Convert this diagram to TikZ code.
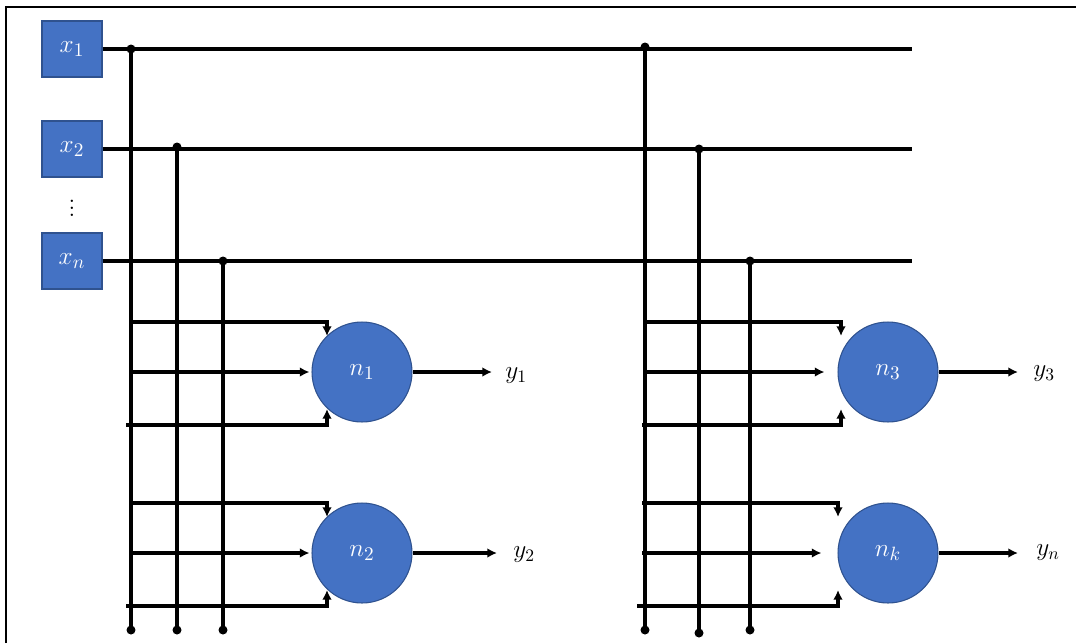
\documentclass[tikz,border=0pt]{standalone}
\usepackage{amsmath,amssymb}
\usepackage{xcolor}
\usepackage{tikz}
\usetikzlibrary{arrows.meta,positioning,calc}

\definecolor{nnblue}{HTML}{4472C4}
\definecolor{nnedge}{HTML}{2F528F}

\begin{document}
\begin{tikzpicture}[
  x=0.02cm, y=-0.02cm,
  font=\fontsize{14}{16}\selectfont,
  inbox/.style = {draw=nnedge, fill=nnblue, text=white, line width=0.6pt,
                  minimum width=1.2cm, minimum height=1.12cm, inner sep=0pt,
                  font=\fontsize{15}{17}\selectfont},
  neuron/.style = {circle, draw=nnedge, fill=nnblue, text=white, line width=0.6pt,
                   minimum size=2cm, inner sep=0pt, font=\fontsize{15}{17}\selectfont},
  tap/.style = {circle, fill=black, inner sep=0pt, minimum size=0.18cm},
  bus/.style = {line width=1.9pt, black},
  arr/.style = {-{Latex[length=5.5pt,width=5.5pt]}, line width=1.9pt, black},
  outlbl/.style = {anchor=west, inner sep=0pt},
]
\useasboundingbox (0,0) rectangle (1076,643);

% frame
\draw[line width=0.8pt] (6,643) -- (6,7) -- (1076,7);

% inputs
\node[inbox] at (72,49)  (x1) {$x_1$};
\node[inbox] at (72,149) (x2) {$x_2$};
\node[inbox] at (72,261) (xn) {$x_n$};
\node at (72,203) (dots) {$\vdots$};

\coordinate (e1) at (912,49);
\coordinate (e2) at (912,149);
\coordinate (en) at (912,261);
\draw[bus] (x1.east) -- (e1);
\draw[bus] (x2.east) -- (e2);
\draw[bus] (xn.east) -- (en);

% vertical buses
\foreach \name/\bx/\by/\ey in {a1/131/49/630, a2/177/147/630, a3/223/261/630,
                              b1/645/47/630, b2/699/149/633, b3/750/261/630} {
  \node[tap] (\name top) at (\bx,\by) {};
  \node[tap] (\name bot) at (\bx,\ey) {};
  \draw[bus] (\name top.center) -- (\name bot.center);
}

% neurons
\node[neuron] at (362,372) (n1) {$n_1$};
\node[neuron] at (362,553) (n2) {$n_2$};
\node[neuron] at (888,372) (n3) {$n_3$};
\node[neuron] at (888,553) (nk) {$n_k$};

% inputs into each neuron
\foreach \nm/\cy/\bx/\bxx/\dx/\gap in {n1/372/131/126/35/2, n2/553/131/126/35/2,
                                      n3/372/645/642/47/13, nk/553/642/637/50/16} {
  \draw[arr] (\bx,\cy-50) -| ($(\nm)+(-\dx,-36)$);
  \draw[arr] (\bx,\cy) -- ($(\nm.west)+(-\gap,0)$);
  \draw[arr] (\bxx,\cy+53) -| ($(\nm)+(-\dx,37)$);
}

% outputs
\node[outlbl] at (505,376) (y1) {$y_1$};
\node[outlbl] at (513,555) (y2) {$y_2$};
\node[outlbl] at (1033,374) (y3) {$y_3$};
\node[outlbl] at (1036,553) (yn) {$y_n$};

\draw[arr, shorten >=0.26cm] (n1.east) -- (n1.east -| y1.west);
\draw[arr, shorten >=0.32cm] (n2.east) -- (n2.east -| y2.west);
\draw[arr, shorten >=0.3cm] (n3.east) -- (n3.east -| y3.west);
\draw[arr, shorten >=0.36cm] (nk.east) -- (nk.east -| yn.west);
\end{tikzpicture}
\end{document}
